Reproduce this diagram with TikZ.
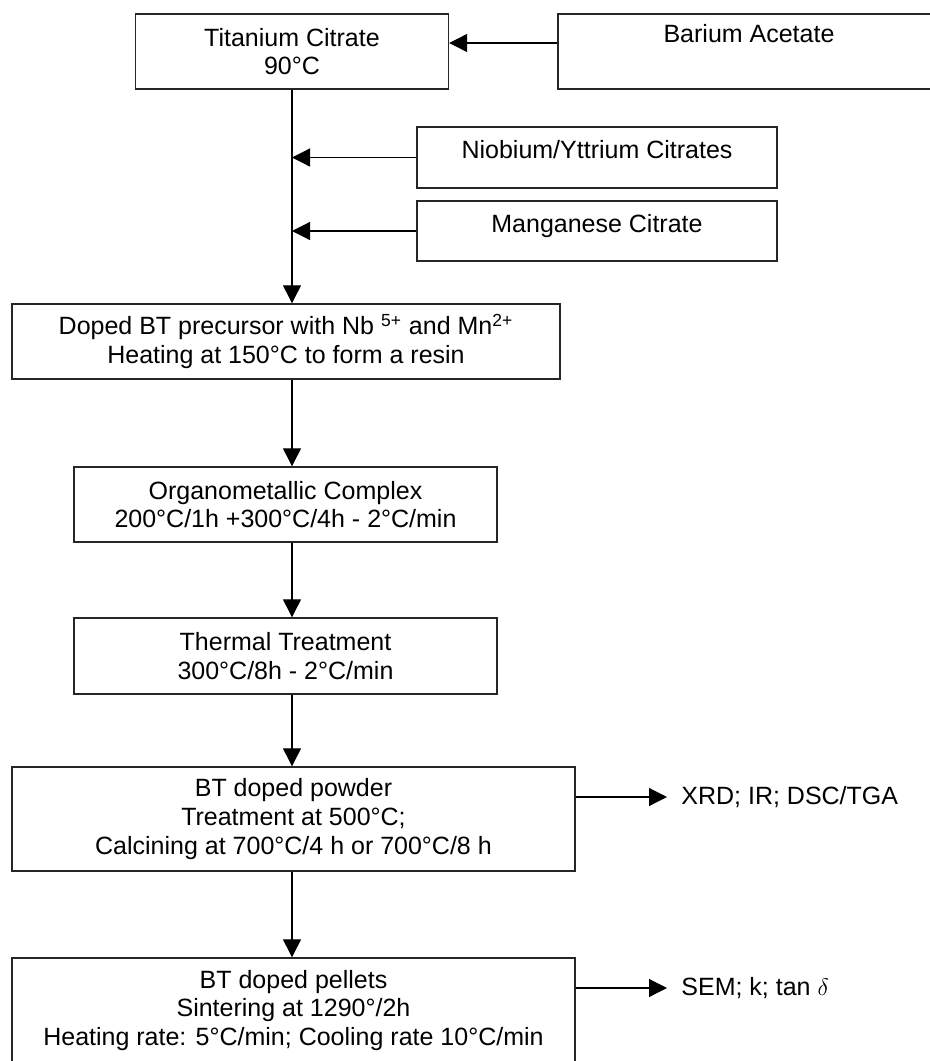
\documentclass[tikz,border=0pt]{standalone}
\usepackage{fontspec}
\setmainfont{Liberation Sans}
\usetikzlibrary{arrows.meta}
\tikzset{
  feed/.style={-{Triangle[length=9pt,width=9pt]}, draw, black, line width=0.6pt},
  stage/.style={rectangle, draw=black!85, line width=0.7pt, inner sep=0pt, align=center, font=\fontsize{12.5}{14.4}\selectfont},
  result/.style={anchor=west, inner xsep=7pt, font=\fontsize{12.5}{14.4}\selectfont},
}

\begin{document}
\begin{tikzpicture}[x=0.5pt, y=-0.5pt]
  \useasboundingbox (0,0) rectangle (930,1061);
  \clip (0,0) rectangle (930,1061);

  % starting materials
  \node[stage, minimum width=156.5pt, minimum height=37.5pt] (titan) at (292,51.5) {Titanium Citrate\\90°C};
  \node[stage, minimum width=191pt, minimum height=37.5pt, text height=9pt, text depth=17.6pt] (barium) at (749,51.5) {Barium Acetate};
  \node[stage, minimum width=180pt, minimum height=30.5pt, text height=9pt, text depth=8pt] (nio) at (597,157.5) {Niobium/Yttrium Citrates};
  \node[stage, minimum width=180pt, minimum height=30pt, text height=9pt, text depth=8pt] (mang) at (597,231) {Manganese Citrate};

  % processing steps
  \node[stage, minimum width=274pt, minimum height=37.5pt] (doped) at (286,341.5) {Doped BT precursor with Nb \textsuperscript{5+} and Mn\textsuperscript{2+}\\Heating at 150°C to form a resin};
  \node[stage, minimum width=211.5pt, minimum height=37.5pt] (organo) at (285.5,504.5) {Organometallic Complex\\200°C/1h +300°C/4h - 2°C/min};
  \node[stage, minimum width=211.5pt, minimum height=38pt] (thermal) at (285.5,656) {Thermal Treatment\\300°C/8h - 2°C/min};
  \node[stage, minimum width=281.5pt, minimum height=52pt] (powder) at (293.5,819) {BT doped powder\\Treatment at 500°C;\\Calcining at 700°C/4 h or 700°C/8 h};
  \node[stage, minimum width=281.5pt, minimum height=52.5pt] (pellets) at (293.5,1010.5) {BT doped pellets\\Sintering at 1290°/2h\\Heating rate: 5°C/min; Cooling rate 10°C/min};

  % characterisation
  \node[result] (xrd) at (667,797) {XRD; IR; DSC/TGA};
  \node[result] (sem) at (667,988) {SEM; k; tan $\delta$};

  \draw[feed] ([yshift=4.25pt]barium.west) -- ([yshift=4.25pt]titan.east);
  \draw[feed] (nio) -- (nio -| titan);
  \draw[feed] (mang) -- (mang -| titan);
  \draw[feed] (titan) -- (titan |- doped.north);
  \draw[feed] (titan |- doped.south) -- (titan |- organo.north);
  \draw[feed] (titan |- organo.south) -- (titan |- thermal.north);
  \draw[feed] (titan |- thermal.south) -- (titan |- powder.north);
  \draw[feed] (titan |- powder.south) -- (titan |- pellets.north);
  \draw[feed] (xrd.west -| powder.east) -- (xrd.west);
  \draw[feed] (sem.west -| pellets.east) -- (sem.west);
\end{tikzpicture}
\end{document}
